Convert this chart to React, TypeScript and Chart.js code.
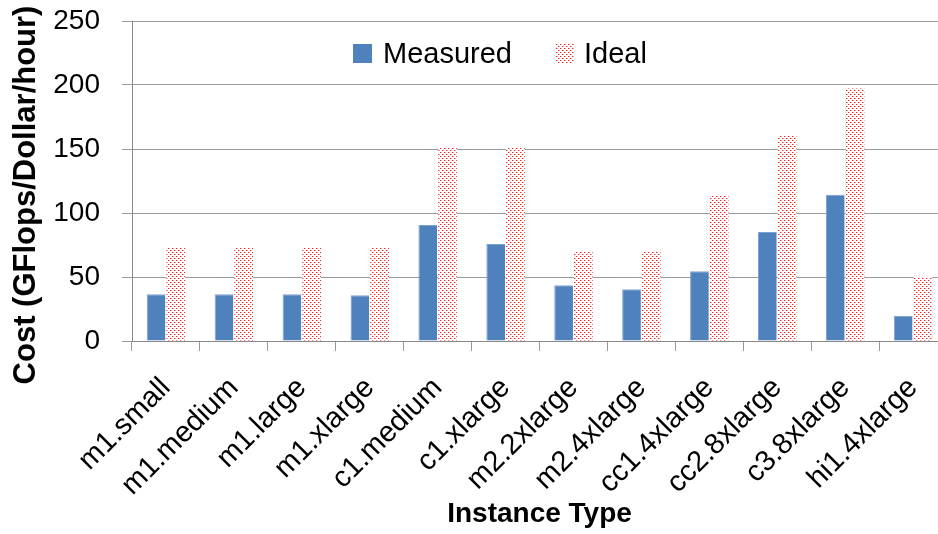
import React, { useEffect, useRef } from "react";
import { Chart, registerables } from "chart.js";

Chart.register(...registerables);

// ---- data ----
const categories = [
  "m1.small",
  "m1.medium",
  "m1.large",
  "m1.xlarge",
  "c1.medium",
  "c1.xlarge",
  "m2.2xlarge",
  "m2.4xlarge",
  "cc1.4xlarge",
  "cc2.8xlarge",
  "c3.8xlarge",
  "hi1.4xlarge",
];
const measured = [36.5, 36.5, 36.5, 35.7, 90.6, 75.8, 43.5, 40.4, 54.4, 85.2, 114.3, 19.7];
const ideal = [73, 73, 73, 73, 151.3, 151.3, 69.5, 69.5, 113.5, 161, 197.2, 50];
const seriesNames = ["Measured", "Ideal"];
const yTicks = [0, 50, 100, 150, 200, 250];
const xTitle = "Instance Type";
const yTitle = "Cost (GFlops/Dollar/hour)";

const FONT = "'Liberation Sans', Arial, sans-serif";
const BLUE = "#4F81BD";

function makePattern(): CanvasPattern | string {
  const c = document.createElement("canvas");
  c.width = 4;
  c.height = 4;
  const g = c.getContext("2d");
  if (!g) return "#f88";
  g.fillStyle = "#ffffff";
  g.fillRect(0, 0, 4, 4);
  g.fillStyle = "#f7a0a0";
  g.fillRect(1, 0, 1, 1);
  g.fillRect(3, 2, 1, 1);
  g.fillStyle = "#ec2a2a";
  g.fillRect(0, 0, 1, 1);
  g.fillRect(2, 2, 1, 1);
  return g.createPattern(c, "repeat") || "#f88";
}

export default function App() {
  const ref = useRef<HTMLCanvasElement | null>(null);

  useEffect(() => {
    if (!ref.current) return;
    const pattern = makePattern();

    const overlayPlugin = {
      id: "overlayText",
      afterDraw(chart: any) {
        const ctx = chart.ctx as CanvasRenderingContext2D;
        const a = chart.chartArea;
        ctx.save();
        // y-axis title
        ctx.translate(26, a.top + (a.bottom - a.top) / 2 + 14);
        ctx.rotate(-Math.PI / 2);
        ctx.font = `bold 31px ${FONT}`;
        ctx.textAlign = "center";
        ctx.textBaseline = "middle";
        ctx.fillStyle = "#000";
        ctx.fillText(yTitle, 0, 0);
        ctx.restore();

        // legend inside the plot
        const top = a.top + 23;
        const size = 19;
        ctx.save();
        ctx.font = `29px ${FONT}`;
        ctx.textBaseline = "middle";
        const x1 = a.left + 221;
        ctx.fillStyle = BLUE;
        ctx.fillRect(x1, top, size, size);
        ctx.fillStyle = "#000";
        ctx.fillText(seriesNames[0], x1 + 30, top + size / 2 + 1);
        const x2 = a.left + 424;
        ctx.fillStyle = pattern as any;
        ctx.fillRect(x2, top, size - 1, size);
        ctx.fillStyle = "#000";
        ctx.fillText(seriesNames[1], x2 + 28, top + size / 2 + 1);
        ctx.restore();
      },
    };

    const chart = new Chart(ref.current, {
      type: "bar",
      data: {
        labels: categories,
        datasets: [
          {
            label: seriesNames[0],
            data: measured,
            backgroundColor: BLUE,
            borderColor: "#7EA1CF",
            borderWidth: { top: 1, left: 1, right: 0, bottom: 0 },
            categoryPercentage: 0.58,
            barPercentage: 0.95,
          },
          {
            label: seriesNames[1],
            data: ideal,
            backgroundColor: pattern as any,
            borderWidth: 0,
            categoryPercentage: 0.58,
            barPercentage: 0.95,
          },
        ],
      },
      options: {
        responsive: false,
        animation: false,
        devicePixelRatio: 1,
        layout: { padding: { top: 21, right: 13, left: 0, bottom: 0 } },
        plugins: {
          legend: { display: false },
          tooltip: { enabled: false },
        },
        scales: {
          x: {
            grid: {
              display: true,
              drawOnChartArea: false,
              drawTicks: true,
              tickLength: 10,
              color: "#999",
              offset: true,
            },
            border: { display: true, color: "#888", width: 1 },
            ticks: {
              color: "#000",
              font: { family: FONT, size: 29 },
              maxRotation: 45,
              minRotation: 45,
              autoSkip: false,
              padding: 20,
            },
            title: {
              display: true,
              text: xTitle,
              color: "#000",
              font: { family: FONT, size: 28, weight: "bold" },
              padding: { top: 0, bottom: 3 },
            },
            afterFit: (s: any) => {
              s.height = 193;
            },
          },
          y: {
            min: 0,
            max: 250,
            afterBuildTicks: (s: any) => {
              s.ticks = yTicks.map((v) => ({ value: v }));
            },
            grid: {
              color: "#9a9a9a",
              lineWidth: 1,
              drawTicks: true,
              tickLength: 10,
            },
            border: { display: true, color: "#888", width: 1 },
            ticks: {
              color: "#000",
              font: { family: FONT, size: 28 },
              padding: 22,
            },
            title: { display: false },
            afterFit: (s: any) => {
              s.width = 132;
              s.paddingTop = 0;
              s.paddingBottom = 0;
            },
          },
        },
      },
      plugins: [overlayPlugin],
    });

    return () => chart.destroy();
  }, []);

  return (
    <div
      style={{
        position: "fixed",
        left: 0,
        top: 0,
        width: 938,
        height: 534,
        overflow: "hidden",
        background: "#fff",
      }}
    >
      <canvas ref={ref} width={960} height={534} style={{ display: "block" }} />
    </div>
  );
}
